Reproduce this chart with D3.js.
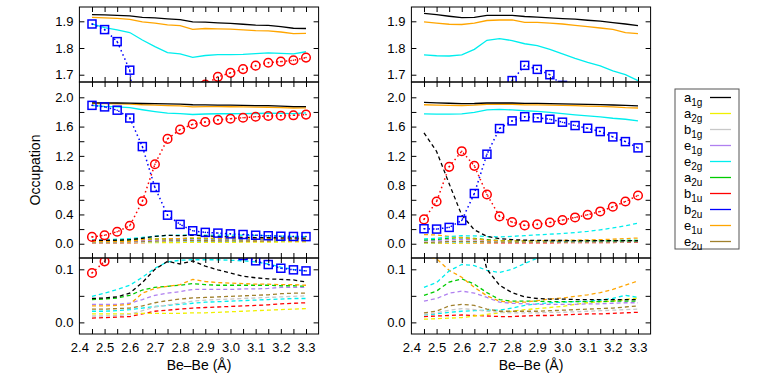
<!DOCTYPE html>
<html>
<head>
<meta charset="utf-8">
<title>Be-Be occupation numbers</title>
<script src="https://d3js.org/d3.v7.min.js"></script>
<style>
  body { margin: 0; background: #fff; }
  text { font-family: "Liberation Sans", Arial, sans-serif; fill: #000; }
</style>
</head>
<body>
<svg id="chart" width="764" height="380"></svg>
<script>
// ---- data ----
const bond = [2.45, 2.50, 2.55, 2.60, 2.65, 2.70, 2.75, 2.80, 2.85, 2.90, 2.95, 3.00, 3.05, 3.10, 3.15, 3.20, 3.25, 3.30];
const xTickLabels = [2.4, 2.5, 2.6, 2.7, 2.8, 2.9, 3.0, 3.1, 3.2, 3.3];

// left structure
const leftA1g   = [1.925, 1.924, 1.922, 1.920, 1.915, 1.913, 1.909, 1.906, 1.898, 1.897, 1.894, 1.892, 1.889, 1.886, 1.885, 1.880, 1.874, 1.873];
const leftE1u   = [1.915, 1.913, 1.911, 1.907, 1.898, 1.893, 1.887, 1.884, 1.870, 1.873, 1.872, 1.871, 1.868, 1.865, 1.864, 1.860, 1.854, 1.855];
const leftE2g   = [1.890, 1.876, 1.868, 1.858, 1.830, 1.805, 1.783, 1.778, 1.765, 1.772, 1.775, 1.775, 1.776, 1.779, 1.782, 1.780, 1.778, 1.786];
const leftB2u   = [1.890, 1.869, 1.824, 1.717, 1.327, 0.768, 0.390, 0.264, 0.177, 0.155, 0.145, 0.135, 0.126, 0.116, 0.109, 0.102, 0.099, 0.097];
const leftB1u   = [0.093, 0.115, 0.164, 0.245, 0.580, 1.086, 1.432, 1.559, 1.632, 1.663, 1.692, 1.707, 1.721, 1.734, 1.745, 1.749, 1.754, 1.764];
const leftA1gW  = [0.045, 0.046, 0.048, 0.055, 0.075, 0.100, 0.115, 0.110, 0.116, 0.106, 0.099, 0.093, 0.087, 0.084, 0.082, 0.081, 0.080, 0.076];
const leftE2gW  = [0.049, 0.055, 0.062, 0.070, 0.085, 0.102, 0.114, 0.117, 0.118, 0.118, 0.118, 0.117, 0.116, 0.114, 0.110, 0.104, 0.100, 0.097];
const leftA2uW  = [0.043, 0.044, 0.046, 0.051, 0.061, 0.066, 0.068, 0.070, 0.073, 0.071, 0.070, 0.070, 0.070, 0.070, 0.070, 0.069, 0.069, 0.068];
const leftE1uW  = [0.031, 0.031, 0.032, 0.034, 0.055, 0.064, 0.068, 0.071, 0.081, 0.077, 0.075, 0.074, 0.073, 0.072, 0.072, 0.071, 0.071, 0.070];
const leftE1gW  = [0.034, 0.034, 0.034, 0.036, 0.043, 0.051, 0.055, 0.058, 0.062, 0.062, 0.062, 0.062, 0.063, 0.063, 0.064, 0.066, 0.066, 0.066];
const leftE2uW  = [0.025, 0.025, 0.026, 0.027, 0.031, 0.037, 0.041, 0.044, 0.046, 0.047, 0.048, 0.049, 0.050, 0.051, 0.052, 0.054, 0.055, 0.055];
const leftB1gW  = [0.012, 0.012, 0.013, 0.015, 0.022, 0.029, 0.033, 0.036, 0.040, 0.042, 0.043, 0.044, 0.045, 0.046, 0.047, 0.048, 0.049, 0.050];
const leftE2gW2 = [0.021, 0.021, 0.022, 0.024, 0.027, 0.030, 0.032, 0.034, 0.036, 0.038, 0.039, 0.040, 0.041, 0.042, 0.043, 0.044, 0.045, 0.045];
const leftB1uW  = [0.008, 0.009, 0.010, 0.011, 0.016, 0.021, 0.023, 0.025, 0.027, 0.028, 0.029, 0.030, 0.031, 0.032, 0.033, 0.035, 0.036, 0.037];
const leftA2gW  = [0.016, 0.016, 0.016, 0.016, 0.017, 0.017, 0.017, 0.017, 0.018, 0.018, 0.019, 0.020, 0.021, 0.022, 0.023, 0.024, 0.025, 0.026];

// right structure
const rightA1g   = [1.930, 1.925, 1.919, 1.914, 1.915, 1.922, 1.922, 1.922, 1.918, 1.916, 1.913, 1.910, 1.908, 1.904, 1.901, 1.895, 1.890, 1.884];
const rightE1u   = [1.898, 1.893, 1.889, 1.888, 1.893, 1.903, 1.905, 1.905, 1.896, 1.896, 1.893, 1.890, 1.885, 1.880, 1.875, 1.870, 1.858, 1.854];
const rightE2g   = [1.774, 1.771, 1.770, 1.774, 1.795, 1.829, 1.835, 1.828, 1.816, 1.809, 1.795, 1.778, 1.761, 1.746, 1.733, 1.714, 1.700, 1.678];
const rightB2u   = [0.205, 0.200, 0.223, 0.318, 0.686, 1.223, 1.573, 1.678, 1.735, 1.720, 1.700, 1.660, 1.614, 1.577, 1.532, 1.459, 1.395, 1.309];
const rightB1u   = [0.332, 0.577, 1.050, 1.264, 1.064, 0.673, 0.373, 0.295, 0.250, 0.264, 0.290, 0.323, 0.359, 0.395, 0.441, 0.505, 0.577, 0.659];
const rightA1gW  = [1.515, 1.260, 0.820, 0.390, 0.190, 0.100, 0.070, 0.056, 0.048, 0.045, 0.044, 0.044, 0.043, 0.043, 0.043, 0.043, 0.043, 0.043];
const rightE1uW  = [0.125, 0.120, 0.098, 0.085, 0.066, 0.050, 0.040, 0.038, 0.038, 0.041, 0.044, 0.046, 0.049, 0.052, 0.056, 0.062, 0.070, 0.078];
const rightE2gW  = [0.066, 0.075, 0.097, 0.109, 0.107, 0.098, 0.094, 0.100, 0.111, 0.121, 0.130, 0.140, 0.153, 0.168, 0.190, 0.215, 0.245, 0.280];
const rightA2uW  = [0.051, 0.059, 0.076, 0.082, 0.072, 0.056, 0.043, 0.040, 0.040, 0.040, 0.039, 0.039, 0.039, 0.039, 0.039, 0.040, 0.040, 0.040];
const rightE1gW  = [0.040, 0.045, 0.055, 0.059, 0.055, 0.047, 0.038, 0.036, 0.035, 0.034, 0.034, 0.034, 0.034, 0.035, 0.035, 0.036, 0.037, 0.037];
const rightE2uW  = [0.018, 0.021, 0.031, 0.034, 0.032, 0.025, 0.021, 0.021, 0.021, 0.021, 0.022, 0.023, 0.024, 0.025, 0.026, 0.027, 0.029, 0.031];
const rightB1gW  = [0.015, 0.018, 0.023, 0.026, 0.024, 0.021, 0.019, 0.018, 0.018, 0.018, 0.019, 0.019, 0.020, 0.021, 0.022, 0.023, 0.024, 0.025];
const rightE2gW2 = [0.014, 0.016, 0.019, 0.021, 0.022, 0.023, 0.023, 0.027, 0.032, 0.035, 0.037, 0.038, 0.039, 0.040, 0.042, 0.045, 0.051, 0.047];
const rightB1uW  = [0.011, 0.012, 0.013, 0.014, 0.013, 0.012, 0.011, 0.011, 0.012, 0.013, 0.013, 0.014, 0.015, 0.016, 0.016, 0.017, 0.018, 0.019];
const rightA2gW  = [0.006, 0.007, 0.008, 0.009, 0.012, 0.015, 0.018, 0.021, 0.024, 0.026, 0.028, 0.030, 0.034, 0.037, 0.039, 0.040, 0.043, 0.046];

const legendNames = [["a", "1g"], ["a", "2g"], ["b", "1g"], ["e", "1g"], ["e", "2g"], ["a", "2u"], ["b", "1u"], ["b", "2u"], ["e", "1u"], ["e", "2u"]];

// ---- style ----
const col = {
  a1g: "#000000", a2g: "#f0f000", b1g: "#c8c8c8", e1g: "#b080f0", e2g: "#00eeee",
  a2u: "#00cc00", b1u: "#ff0000", b2u: "#0000ff", e1u: "#ffa500", e2u: "#a0802c"
};
const legendColors = [col.a1g, col.a2g, col.b1g, col.e1g, col.e2g, col.a2u, col.b1u, col.b2u, col.e1u, col.e2u];

function seriesFor(s) {
  return [
    {v: s.b1uW, c: col.b1u, k: "dash"}, {v: s.a2gW, c: col.a2g, k: "dash"},
    {v: s.e2gW2, c: col.e2g, k: "dash"}, {v: s.b1gW, c: col.b1g, k: "dash"},
    {v: s.e2uW, c: col.e2u, k: "dash"}, {v: s.e1gW, c: col.e1g, k: "dash"},
    {v: s.a2uW, c: col.a2u, k: "dash"}, {v: s.e1uW, c: col.e1u, k: "dash"},
    {v: s.e2gW, c: col.e2g, k: "dash"}, {v: s.a1gW, c: col.a1g, k: "dash"},
    {v: s.e2g, c: col.e2g, k: "solid"}, {v: s.e1u, c: col.e1u, k: "solid"},
    {v: s.a1g, c: col.a1g, k: "solid"},
    {v: s.b1u, c: col.b1u, k: "circle"}, {v: s.b2u, c: col.b2u, k: "square"}
  ];
}

const sides = [
  {x0: 79.4, x1: 318.6, series: seriesFor({
    a1g: leftA1g, e1u: leftE1u, e2g: leftE2g, b2u: leftB2u, b1u: leftB1u,
    a1gW: leftA1gW, e2gW: leftE2gW, a2uW: leftA2uW, e1uW: leftE1uW, e1gW: leftE1gW,
    e2uW: leftE2uW, b1gW: leftB1gW, e2gW2: leftE2gW2, b1uW: leftB1uW, a2gW: leftA2gW})},
  {x0: 411.4, x1: 650.6, series: seriesFor({
    a1g: rightA1g, e1u: rightE1u, e2g: rightE2g, b2u: rightB2u, b1u: rightB1u,
    a1gW: rightA1gW, e2gW: rightE2gW, a2uW: rightA2uW, e1uW: rightE1uW, e1gW: rightE1gW,
    e2uW: rightE2uW, b1gW: rightB1gW, e2gW2: rightE2gW2, b1uW: rightB1uW, a2gW: rightA2gW})}
];

const panels = [
  {top: 7, bottom: 82, domain: [1.6727, 1.9536], ticks: [1.7, 1.8, 1.9], labels: [1.7, 1.8, 1.9]},
  {top: 82, bottom: 258, domain: [-0.195, 2.209], ticks: [0, 0.2, 0.4, 0.6, 0.8, 1.0, 1.2, 1.4, 1.6, 1.8, 2.0], labels: [0, 0.4, 0.8, 1.2, 1.6, 2.0]},
  {top: 258, bottom: 334, domain: [-0.0219, 0.1213], ticks: [0, 0.05, 0.1], labels: [0, 0.1]}
];

const xMinor = d3.range(2.45, 3.33, 0.05).map(d => Math.round(d * 100) / 100);

const svg = d3.select("#chart");
let clipId = 0;

sides.forEach((side, si) => {
  const x = d3.scaleLinear().domain([2.4, 3.35]).range([side.x0, side.x1]);
  panels.forEach((p, pi) => {
    const y = d3.scaleLinear().domain(p.domain).range([p.bottom, p.top]);
    const id = "clip" + (clipId++);
    svg.append("clipPath").attr("id", id).append("rect")
      .attr("x", side.x0).attr("y", p.top).attr("width", side.x1 - side.x0).attr("height", p.bottom - p.top);
    const g = svg.append("g").attr("clip-path", "url(#" + id + ")");
    const line = d3.line().x((d, i) => x(bond[i])).y(d => y(d));

    side.series.forEach(s => {
      const path = g.append("path").datum(s.v).attr("d", line)
        .attr("fill", "none").attr("stroke", s.c);
      if (s.k === "solid") path.attr("stroke-width", 1.3);
      else if (s.k === "dash") path.attr("stroke-width", 1.3).attr("stroke-dasharray", "4,3");
      else path.attr("stroke-width", 1.5).attr("stroke-dasharray", "1.5,3");
      if (s.k === "square") {
        g.selectAll(null).data(s.v).enter().append("rect")
          .attr("x", (d, i) => x(bond[i]) - 4).attr("y", d => y(d) - 4)
          .attr("width", 8).attr("height", 8)
          .attr("fill", "none").attr("stroke", s.c).attr("stroke-width", 1.5);
      }
      if (s.k === "circle") {
        g.selectAll(null).data(s.v).enter().append("circle")
          .attr("cx", (d, i) => x(bond[i])).attr("cy", d => y(d)).attr("r", 4.3)
          .attr("fill", "none").attr("stroke", s.c).attr("stroke-width", 1.5);
      }
      if (s.k === "square" || s.k === "circle") {
        g.selectAll(null).data(s.v).enter().append("circle")
          .attr("cx", (d, i) => x(bond[i])).attr("cy", d => y(d)).attr("r", 0.8)
          .attr("fill", s.c);
      }
    });

    // axes with inward ticks
    const fmtY = d => p.labels.some(l => Math.abs(l - d) < 1e-9) ? d3.format(".1f")(d) : "";
    svg.append("g").attr("transform", `translate(${side.x0},0)`)
      .call(d3.axisLeft(y).tickValues(p.ticks).tickSize(-5).tickSizeOuter(0).tickPadding(6).tickFormat(fmtY))
      .call(a => a.select(".domain").remove())
      .call(a => a.selectAll("text").attr("font-size", 13).attr("font-family", null));
    svg.append("g").attr("transform", `translate(${side.x1},0)`)
      .call(d3.axisRight(y).tickValues(p.ticks).tickSize(-5).tickSizeOuter(0).tickFormat(""))
      .call(a => a.select(".domain").remove());
    svg.append("g").attr("transform", `translate(0,${p.top})`)
      .call(d3.axisTop(x).tickValues(xMinor).tickSize(-5).tickSizeOuter(0).tickFormat(""))
      .call(a => a.select(".domain").remove());
    svg.append("g").attr("transform", `translate(0,${p.bottom})`)
      .call(d3.axisBottom(x).tickValues(xMinor).tickSize(-5).tickSizeOuter(0).tickFormat(""))
      .call(a => a.select(".domain").remove());
    if (pi === panels.length - 1) {
      svg.append("g").attr("transform", `translate(0,${p.bottom})`)
        .call(d3.axisBottom(x).tickValues(xTickLabels).tickSize(0).tickPadding(9).tickFormat(d3.format(".1f")))
        .call(a => a.select(".domain").remove())
        .call(a => a.selectAll("text").attr("font-size", 13).attr("font-family", null));
    }
    svg.append("rect").attr("x", side.x0).attr("y", p.top)
      .attr("width", side.x1 - side.x0).attr("height", p.bottom - p.top)
      .attr("fill", "none").attr("stroke", "#000").attr("stroke-width", 1);
  });

  svg.append("text").attr("x", (side.x0 + side.x1) / 2).attr("y", 370)
    .attr("text-anchor", "middle").attr("font-size", 14).text("Be\u2013Be (\u00c5)");
});

svg.append("text").attr("transform", "translate(40,170) rotate(-90)")
  .attr("text-anchor", "middle").attr("font-size", 14).text("Occupation");

// legend
const legend = svg.append("g");
legend.append("rect").attr("x", 675).attr("y", 89).attr("width", 64).attr("height", 160)
  .attr("fill", "#fff").attr("stroke", "#555").attr("stroke-width", 1);
legendNames.forEach((n, i) => {
  const cy = 97.5 + i * 16;
  const t = legend.append("text").attr("x", 684).attr("y", cy + 4).attr("font-size", 13);
  t.append("tspan").text(n[0]);
  t.append("tspan").attr("dy", 4).attr("font-size", 10).text(n[1]);
  legend.append("line").attr("x1", 710).attr("x2", 731).attr("y1", cy).attr("y2", cy)
    .attr("stroke", legendColors[i]).attr("stroke-width", 1.3);
});
</script>
</body>
</html>
